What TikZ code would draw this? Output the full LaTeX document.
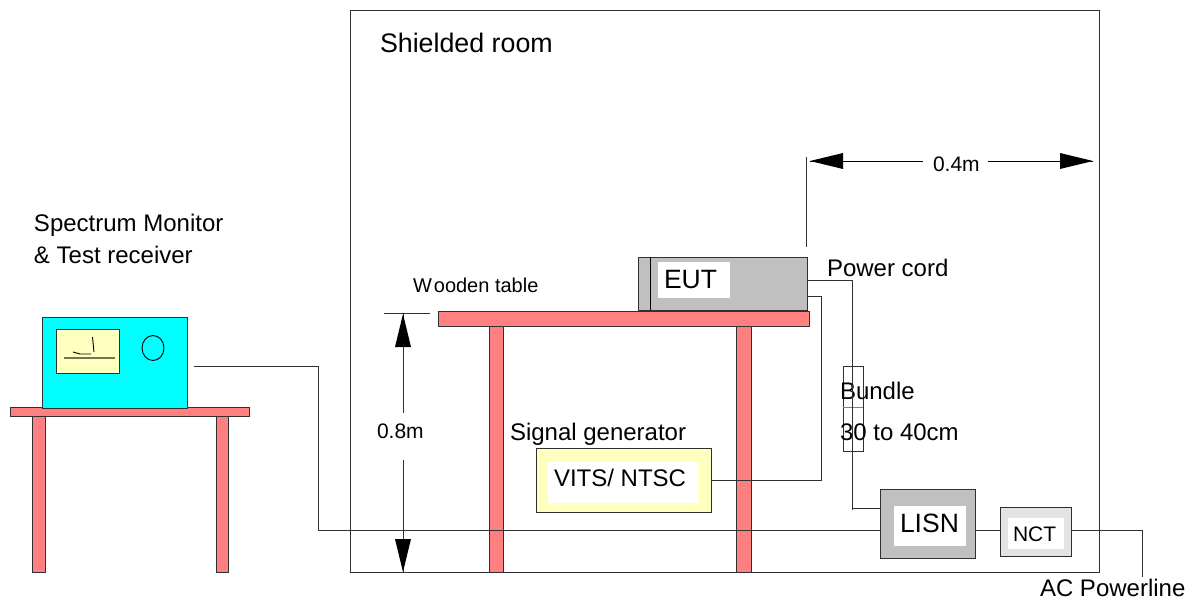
\documentclass[tikz,border=0pt]{standalone}
\usepackage{fontspec}
\setmainfont{Liberation Sans}
\usetikzlibrary{calc,shapes.geometric}
\definecolor{tablered}{HTML}{FF8080}
\definecolor{screenyel}{HTML}{FFFFC0}
\definecolor{eutgray}{HTML}{C0C0C0}
\definecolor{nctgray}{HTML}{E3E3E3}
\definecolor{edge}{HTML}{303030}
\definecolor{moncyan}{HTML}{00FFFF}
\tikzset{
  x=1pt,y=-1pt,
  rectbox/.style={draw=edge,line width=0.9pt,inner sep=0pt,outer sep=0pt,anchor=center},
  wood/.style={rectbox,fill=tablered},
  whitepad/.style={fill=white,draw=none,inner sep=0pt,outer sep=0pt,anchor=center},
  wire/.style={draw=edge,line width=0.9pt},
  lbl/.style={inner sep=0pt,outer sep=0pt,anchor=base west,text=black},
  big/.style={lbl,font=\fontsize{24}{28}\selectfont},
  huge/.style={lbl,font=\fontsize{26.5}{30}\selectfont},
  small/.style={lbl,font=\fontsize{21}{25}\selectfont},
  dimhead/.style={fill=black,draw=none},
}
% \bx{name}{style}{x1}{y1}{x2}{y2}{text}
\newcommand{\bx}[7]{%
  \pgfmathsetmacro{\bxw}{#5-#3}\pgfmathsetmacro{\bxh}{#6-#4}%
  \node[#2,minimum width=\bxw pt,minimum height=\bxh pt] (#1) at ({(#3+#5)/2},{(#4+#6)/2}) {#7};}
\begin{document}
\begin{tikzpicture}
\useasboundingbox (0,0) rectangle (1195,602);
% room
\bx{room}{rectbox}{350}{10}{1099}{572}{}
\node[huge,font=\fontsize{26.8}{30}\selectfont] (roomlbl) at (380,53) {Shielded room};
% left table
\bx{lleg1}{wood}{32}{416}{45}{572}{}
\bx{lleg2}{wood}{216}{416}{228}{572}{}
\bx{ltop}{wood}{10}{407}{249}{416}{}
% monitor
\bx{mon}{rectbox,fill=moncyan}{42}{317}{187}{408}{}
\bx{scr}{rectbox,fill=screenyel}{56}{329}{119}{373}{}
\draw[draw=black!55!screenyel,line width=1.2pt] (64,358) -- (115,358);
\draw[black,line width=0.9pt] (73,352) -- (80,354) -- (91,354);
\draw[black,line width=0.9pt] (92.5,337) -- (94,352);
\node[draw=black,line width=0.9pt,ellipse,inner sep=0pt,outer sep=0pt,minimum width=22pt,minimum height=25pt] (knob) at (153,348) {};
\node[big] (monlbl1) at (34,231) {Spectrum Monitor};
\node[big] (monlbl2) at (34,263) {\&\ Test receiver};
% wooden table
\bx{mleg1}{wood}{489}{325}{503}{572}{}
\bx{mleg2}{wood}{736}{325}{751}{572}{}
\bx{mtop}{wood}{438}{311}{809}{326}{}
\node[small,font=\fontsize{20}{24}\selectfont] (woodlbl) at (413,292) {W\kern2pt ooden table};
% EUT
\bx{eut}{rectbox,fill=eutgray}{638}{257}{807}{310}{}
\draw[wire,black] (650,257) -- (650,310);
\bx{eutpad}{whitepad}{658}{262}{730}{298}{}
\node[huge] (eutlbl) at (664,288) {EUT};
\node[big] (cordlbl) at (827,276) {Power cord};
% signal generator
\node[big] (siglbl) at (510,440) {Signal generator};
\bx{sig}{rectbox,fill=screenyel}{536}{448}{711}{512}{}
\bx{sigpad}{whitepad}{548}{462}{698}{503}{}
\node[big] (vits) at (554,486) {VITS/ NTSC};
% LISN, NCT
\bx{lisn}{rectbox,fill=eutgray}{880}{489}{975}{558}{}
\bx{lisnpad}{whitepad}{894}{506}{966}{546}{}
\node[huge] (lisnlbl) at (900,532) {LISN};
\bx{nct}{rectbox,fill=nctgray}{1000}{507}{1071}{556}{}
\bx{nctpad}{whitepad}{1008}{518}{1064}{549}{}
\node[small] (nctlbl) at (1013,541) {NCT};
% bundle
\bx{bun}{rectbox}{843}{366}{863}{451}{}
\draw[draw=edge!60,line width=0.9pt] (bun.west |- 0,407) -- (bun.east |- 0,407);
\node[big] (bunlbl1) at (840,399) {Bundle};
\node[big] (bunlbl2) at (840,440) {30 to 40cm};
% connectors
\coordinate (cabstart) at (194,366);
\coordinate (lisnIn) at (lisn.west |- 0,530);
\draw[wire] (cabstart) -| (318,530) -- (lisnIn);
\coordinate (cordA) at (eut.east |- 0,280);
\coordinate (cordB) at (lisn.west |- 0,508);
\draw[wire] (cordA) -| (852,508) -- (cordB);
\draw[wire] (852,508) -- (852,510);
\coordinate (sigA) at (sig.east);
\coordinate (sigB) at (808,296);
\draw[wire] (sigA) -| (821,296) -- (sigB);
\coordinate (lisnOut) at (lisn.east |- 0,530);
\coordinate (nctIn) at (nct.west |- 0,530);
\coordinate (nctOut) at (nct.east |- 0,530);
\coordinate (acEnd) at (1142,577);
\draw[wire] (lisnOut) -- (nctIn);
\draw[wire] (nctOut) -| (acEnd);
\node[big] (aclbl) at (1040,596.5) {AC Powerline};
% 0.8m dimension
\coordinate (dimTop) at (403,314);
\coordinate (dimBot) at (403,572);
\draw[wire] (384,313) -- (430,313);
\draw[wire] (dimTop) -- (403,413);
\draw[wire] (403,460) -- (dimBot);
\fill[dimhead] (dimTop) -- (411,347) -- (395,347) -- cycle;
\fill[dimhead] (dimBot) -- (411,539) -- (395,539) -- cycle;
\node[small] (dimlbl1) at (377,438) {0.8m};
% 0.4m dimension
\coordinate (dLeft) at (810,161);
\coordinate (dRight) at (1093,161);
\draw[wire] (806,157) -- (806,247);
\draw[wire,black] (dLeft) -- (923,161);
\draw[wire,black] (988,161) -- (dRight);
\fill[dimhead] (dLeft) -- (843,153) -- (843,169) -- cycle;
\fill[dimhead] (dRight) -- (1060,153) -- (1060,169) -- cycle;
\node[small] (dimlbl2) at (933,171) {0.4m};
\end{tikzpicture}
\end{document}
